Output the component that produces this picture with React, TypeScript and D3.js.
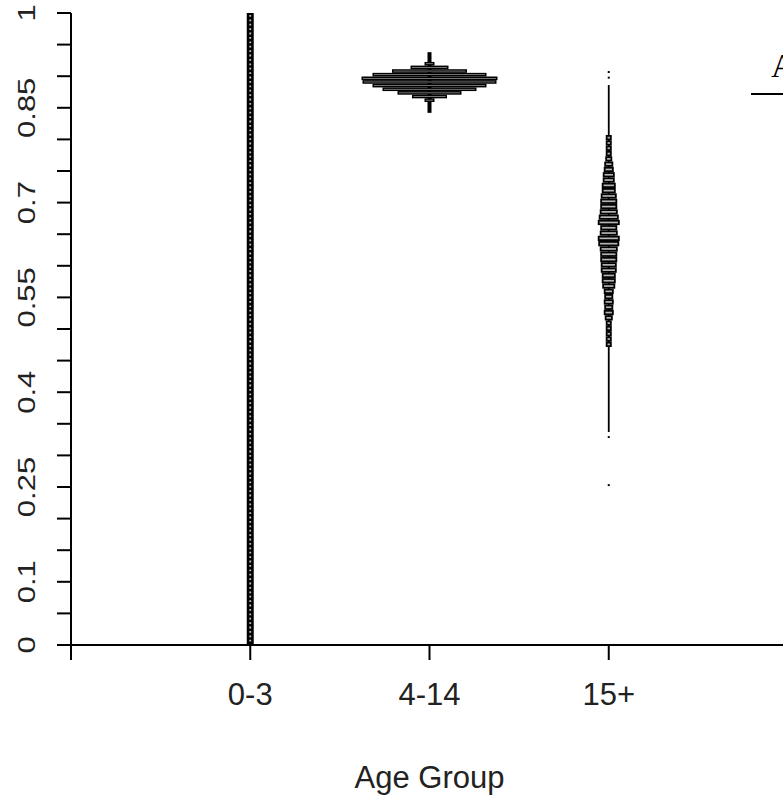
import {useEffect, useRef} from "react";
import * as d3 from "d3";

// age groups on the x axis (position 1..3, axis runs 0..4)
const groups = ["0-3", "4-14", "15+"];

// y axis: minor ticks every 0.05, labelled values
const yTicks = d3.range(0, 21).map(i => i * 0.05);
const yLabels = [0, 0.1, 0.25, 0.4, 0.55, 0.7, 0.85, 1];

// 0-3: flat column over the whole range
const g03 = {lo: 0, hi: 1, count: 3.5};

// 4-14 histogram, bins from bottom to top
const g414Start = 0.8592;
const g414Step = 0.00576;
const g414Counts = [5, 17.5, 32, 47, 57, 67, 68, 57, 37.5, 19, 5];
const g414Whisker = [0.842, 0.938];

// 15+ histogram, bins from bottom to top
const g15Start = 0.4715;
const g15Step = 0.008386;
const g15Counts = [3, 3, 3, 3, 3, 4, 5, 4.5, 5, 4.5, 5, 6.5, 7, 7, 8, 8, 8.5, 8.5, 9, 10.5,
    11, 9, 8.5, 11, 10, 9, 8.5, 8.5, 8, 7, 7, 6, 6, 5, 4.5, 3.5, 3, 3, 3, 3];
const g15Whisker = [0.337, 0.886];
const g15Outliers = [0.9066, 0.8977, 0.329, 0.253];

function App() {
    const ref = useRef(null);

    useEffect(() => {
        const svg = d3.select(ref.current);
        svg.selectAll("*").remove();

        const x = d3.scaleLinear().domain([0, 4]).range([71, 788]);
        const y = d3.scaleLinear().domain([0, 1]).range([645, 13]);
        const w = d3.scaleLinear().domain([0, 68]).range([0, 136]);

        const sans = "'Liberation Sans', Arial, sans-serif";

        // histogram bars
        function drawBins(pos, start, step, counts, sw) {
            const cx = x(pos);
            svg.append("g")
                .selectAll("rect")
                .data(counts)
                .enter()
                .append("rect")
                .attr("x", d => cx - w(d) / 2 + sw / 2)
                .attr("width", d => Math.max(w(d) - sw, 0.5))
                .attr("y", (d, i) => y(start + (i + 1) * step) + sw / 2)
                .attr("height", y(0) - y(step) - sw)
                .attr("fill", "#b4b4b4")
                .attr("stroke", "#000")
                .attr("stroke-width", sw);
        }

        // 0-3 column
        const c0 = x(1);
        svg.append("rect")
            .attr("x", c0 - w(g03.count) / 2)
            .attr("width", w(g03.count))
            .attr("y", y(g03.hi))
            .attr("height", y(g03.lo) - y(g03.hi))
            .attr("fill", "#000");
        svg.append("line")
            .attr("x1", c0).attr("x2", c0)
            .attr("y1", y(g03.hi) + 2).attr("y2", y(g03.lo))
            .attr("stroke", "#c0c0c0")
            .attr("stroke-width", 1.8)
            .attr("stroke-dasharray", "1.8 2.6");

        // 4-14
        svg.append("rect")
            .attr("x", x(2) - 2)
            .attr("width", 4)
            .attr("y", y(g414Whisker[1]))
            .attr("height", y(g414Whisker[0]) - y(g414Whisker[1]))
            .attr("fill", "#000");
        drawBins(2, g414Start, g414Step, g414Counts, 1.5);

        // 15+
        svg.append("rect")
            .attr("x", x(3) - 0.9)
            .attr("width", 1.8)
            .attr("y", y(g15Whisker[1]))
            .attr("height", y(g15Whisker[0]) - y(g15Whisker[1]))
            .attr("fill", "#000");
        drawBins(3, g15Start, g15Step, g15Counts, 1.8);
        svg.append("g")
            .selectAll("rect")
            .data(g15Outliers)
            .enter()
            .append("rect")
            .attr("x", x(3) - 1)
            .attr("y", d => y(d) - 1)
            .attr("width", 2)
            .attr("height", 2)
            .attr("fill", "#000");

        // y axis
        const ya = svg.append("g");
        ya.append("line")
            .attr("x1", 71).attr("x2", 71)
            .attr("y1", y(1)).attr("y2", y(0))
            .attr("stroke", "#000").attr("stroke-width", 2);
        ya.selectAll(".tk")
            .data(yTicks)
            .enter()
            .append("line")
            .attr("x1", 57).attr("x2", 71)
            .attr("y1", d => y(d)).attr("y2", d => y(d))
            .attr("stroke", "#000").attr("stroke-width", 2);
        ya.selectAll("text")
            .data(yLabels)
            .enter()
            .append("text")
            .attr("transform", d => `translate(35,${y(d)}) rotate(-90) scale(1,0.8)`)
            .attr("text-anchor", "middle")
            .style("font-family", sans)
            .style("font-size", "31px")
            .style("fill", "#222")
            .text(d => String(d));

        // x axis
        const xa = svg.append("g");
        xa.append("line")
            .attr("x1", 70).attr("x2", 790)
            .attr("y1", 645).attr("y2", 645)
            .attr("stroke", "#000").attr("stroke-width", 2);
        xa.selectAll(".tk")
            .data([0, 1, 2, 3, 4])
            .enter()
            .append("line")
            .attr("x1", d => x(d)).attr("x2", d => x(d))
            .attr("y1", 645).attr("y2", 660)
            .attr("stroke", "#000").attr("stroke-width", 2);
        xa.selectAll("text")
            .data(groups)
            .enter()
            .append("text")
            .attr("x", (d, i) => x(i + 1))
            .attr("y", 705)
            .attr("text-anchor", "middle")
            .style("font-family", sans)
            .style("font-size", "31px")
            .style("fill", "#222")
            .text(d => d);
        svg.append("text")
            .attr("x", x(2))
            .attr("y", 788)
            .attr("text-anchor", "middle")
            .style("font-family", sans)
            .style("font-size", "31px")
            .style("fill", "#222")
            .text("Age Group");

        // legend header, cut at the right edge as in the source
        svg.append("text")
            .attr("x", 771)
            .attr("y", 77)
            .style("font-family", "'Liberation Serif', 'Times New Roman', serif")
            .style("font-size", "34px")
            .text("A");
        svg.append("line")
            .attr("x1", 751).attr("x2", 790)
            .attr("y1", 94).attr("y2", 94)
            .attr("stroke", "#000").attr("stroke-width", 2);
    }, []);

    return <svg ref={ref} width={783} height={795}
                style={{position: "absolute", left: 0, top: 0, background: "#fff", overflow: "hidden"}}/>;
}

export default App;
